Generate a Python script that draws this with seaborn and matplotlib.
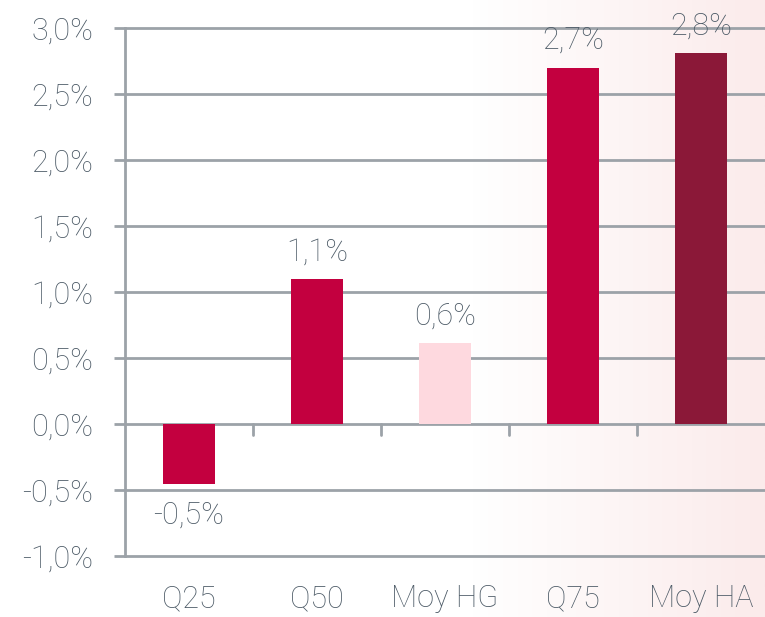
import numpy as np
import matplotlib.pyplot as plt
import seaborn as sns

categories = ['Q25', 'Q50', 'Moy HG', 'Q75', 'Moy HA']
values = [-0.455, 1.10, 0.615, 2.70, 2.81]
labels = ['-0,5%', '1,1%', '0,6%', '2,7%', '2,8%']
bar_colors = ['#c3003f', '#c3003f', '#fed9df', '#c3003f', '#8b1838']
yticks = [-1.0, -0.5, 0.0, 0.5, 1.0, 1.5, 2.0, 2.5, 3.0]

sns.set_theme(style='white')
plt.rcParams['font.family'] = ['Roboto', 'DejaVu Sans']
text_color = '#4c5a66'
grid_color = '#9ca2a8'
fs = 22

fig = plt.figure(figsize=(7.65, 6.17), dpi=100)

# background gradient, white on the left fading to light pink on the right
bg = fig.add_axes([0, 0, 1, 1], zorder=0)
xs = np.linspace(0, 1, 400)
ramp = np.clip((xs - 0.62) / 0.38, 0, 1)
c0 = np.array([1.0, 1.0, 1.0])
c1 = np.array([0xfb, 0xeb, 0xeb]) / 255
img = c0[None, :] * (1 - ramp[:, None]) + c1[None, :] * ramp[:, None]
bg.imshow(img[None, :, :], aspect='auto', extent=[0, 1, 0, 1])
bg.axis('off')

ax = fig.add_axes([125 / 765, 61 / 617, 640 / 765, 528 / 617], zorder=1)
ax.patch.set_alpha(0)

sns.barplot(x=categories, y=values, hue=categories, palette=bar_colors,
            width=0.4, legend=False, saturation=1, linewidth=0, ax=ax, zorder=3)

ax.set_ylim(-1.0, 3.0)
ax.set_xlim(-0.5, len(categories) - 0.5)
ax.set_yticks(yticks)
ax.set_yticklabels([f'{t:.1f}%'.replace('.', ',') for t in yticks])
for t in yticks:
    ax.axhline(t, color=grid_color, lw=2, zorder=1, clip_on=False)

for s in ['top', 'right', 'bottom']:
    ax.spines[s].set_visible(False)
ax.spines['left'].set_color(grid_color)
ax.spines['left'].set_linewidth(2)

ax.tick_params(axis='y', left=True, length=8, width=2, color=grid_color,
               labelsize=fs, labelcolor=text_color, pad=15)
ax.tick_params(axis='x', bottom=False, labelsize=fs, labelcolor=text_color, pad=14)
for lab in ax.get_yticklabels() + ax.get_xticklabels():
    lab.set_fontweight('light')

# small separators on the zero line between categories
for i in range(len(categories) - 1):
    ax.plot([i + 0.5, i + 0.5], [0, -0.08], color=grid_color, lw=2, zorder=2)

for i, (v, lab) in enumerate(zip(values, labels)):
    if v >= 0:
        ax.annotate(lab, (i, v), xytext=(0, 9), textcoords='offset points',
                    ha='center', va='bottom', fontsize=fs, color=text_color,
                    fontweight='light', zorder=4)
    else:
        ax.annotate(lab, (i, v), xytext=(0, -12), textcoords='offset points',
                    ha='center', va='top', fontsize=fs, color=text_color,
                    fontweight='light', zorder=4)

ax.set_xlabel('')
ax.set_ylabel('')
fig.savefig('out.png', dpi=100)
